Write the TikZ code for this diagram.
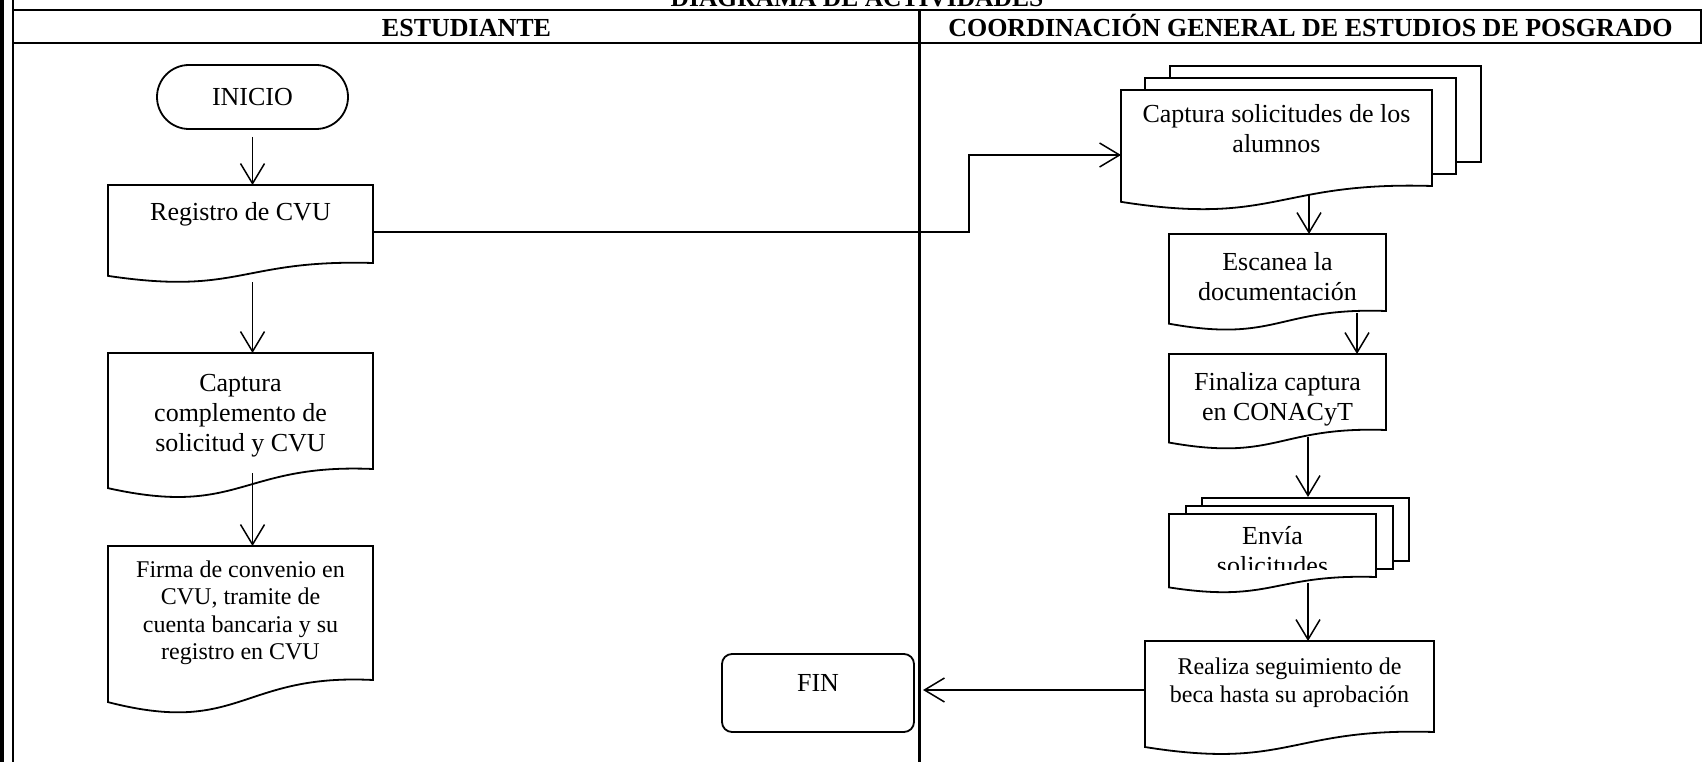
\documentclass[tikz,border=0pt]{standalone}
\usepackage{fontspec}
\setmainfont{Liberation Serif}
\usetikzlibrary{arrows.meta,calc}
\pgfdeclarelayer{bg}
\pgfsetlayers{bg,main}

\tikzset{
  frame/.style={line width=2.2pt},
  shapeline/.style={line width=1.8pt, line join=miter},
  docbox/.style={rectangle, inner sep=0pt, outer sep=0pt, align=center,
    font=\fontsize{26}{30}\selectfont},
  smalltext/.style={font=\fontsize{24}{27.5}\selectfont},
  term/.style={rectangle, draw, line width=1.8pt, inner sep=0pt, outer sep=0pt,
    font=\fontsize{26}{30}\selectfont},
  hdr/.style={font=\fontsize{26}{30}\selectfont\bfseries, inner sep=0pt, anchor=base},
  arr/.style={line width=1.5pt, -{Straight Barb[length=20pt,width=24pt]}},
}

% document symbol: rectangle with a wavy lower edge, built on a node's box
\newcommand\docshape[1]{%
  \draw[shapeline, fill=white]
    let \p1=(#1.north west), \p2=(#1.south east), \n1={\y1-\y2} in
    (\p1) -- (\x2,\y1) -- (\p2)
    .. controls ({0.5*\x1+0.5*\x2},{\y2+0.05*\n1}) and ({0.5*\x1+0.5*\x2},{\y2-0.42*\n1})
    .. (\x1,{\y2-0.165*\n1}) -- cycle;}
% sheet behind a multi-document symbol
\newcommand\backpage[3]{%
  \draw[shapeline, fill=white]
    ([shift={(#2,#3)}]#1.north west) rectangle ([shift={(#2,#3)}]#1.south east);}

\begin{document}
\begin{tikzpicture}[x=1pt, y=-1pt]
\useasboundingbox (0,0) rectangle (1702,762);
\clip (0,0) rectangle (1702,762);

% table frame
\fill (0,0) rectangle (4,762);
\draw[frame] (13,0) -- (13,762);
\draw[frame] (13,10) -- (1701,10) -- (1701,43) -- (13,43);
\draw[frame] (919.5,10) -- (919.5,762);

\node[hdr, font=\fontsize{25.5}{30}\selectfont\bfseries] (ttl) at (857,7) {DIAGRAMA DE ACTIVIDADES};
\node[hdr] (h1) at (466.5,36.5) {ESTUDIANTE};
\node[hdr] (h2) at (1310.5,36.5) {COORDINACIÓN GENERAL DE ESTUDIOS DE POSGRADO};

% student lane
\node[term, rounded corners=32pt, minimum width=191pt, minimum height=64pt] (inicio) at (252.5,97) {INICIO};
\node[docbox, minimum width=265pt, minimum height=78pt, text height=18pt, text depth=25pt] (reg) at (240.5,224) {Registro de CVU};
\node[docbox, minimum width=265pt, minimum height=116pt, text height=86pt] (cap) at (240.5,411) {Captura\\complemento de\\solicitud y CVU};
\node[docbox, smalltext, minimum width=265pt, minimum height=134pt] (firma) at (240.5,613) {Firma de convenio en\\CVU, tramite de\\cuenta bancaria y su\\registro en CVU};
\node[term, rounded corners=10pt, minimum width=192pt, minimum height=78pt, text height=18pt, text depth=21pt] (finbox) at (818,693) {FIN};

% coordination lane
\node[docbox, minimum width=311pt, minimum height=96pt, text depth=20pt] (capsol) at (1276.5,138) {Captura solicitudes de los\\alumnos};
\node[docbox, minimum width=217pt, minimum height=77pt, text height=56pt] (esc) at (1277.5,272.5) {Escanea la\\documentación};
\node[docbox, minimum width=217pt, minimum height=76pt, text height=56pt, text depth=0pt] (fin2) at (1277.5,392) {Finaliza captura\\en CONACyT};
\begin{scope}
  \clip (1160,500) rectangle (1400,569);
  \node[docbox, minimum width=207pt, minimum height=63pt, text height=57pt, text depth=0pt] (envia) at (1272.5,545.5) {Envía\\solicitudes};
\end{scope}
\node[docbox, smalltext, minimum width=289pt, minimum height=91pt, text depth=13pt] (real) at (1289.5,686.5) {Realiza seguimiento de\\beca hasta su aprobación};

% outlines behind the texts
\begin{pgfonlayer}{bg}
  \docshape{reg}
  \docshape{cap}
  \docshape{firma}
  \backpage{capsol}{49}{-24}
  \backpage{capsol}{24}{-12}
  \docshape{capsol}
  \docshape{esc}
  \docshape{fin2}
  \backpage{envia}{33}{-16}
  \backpage{envia}{17}{-8}
  \docshape{envia}
  \docshape{real}
\end{pgfonlayer}

% connectors
\draw[arr] ([yshift=-8pt]inicio.south) -- (inicio.south |- reg.north);
\draw[arr] ($(reg.south -| inicio.south)+(0,19)$) -- (inicio.south |- cap.north);
\draw[arr] ($(cap.south -| inicio.south)+(0,4)$) -- (inicio.south |- firma.north);
\draw[arr] ($(reg.east)+(0,8)$) -| ($(capsol.west)+(-152,17)$) -- ($(capsol.west)+(0,17)$);
\draw[arr] ($(capsol.south)+(32.5,9)$) coordinate (c1) -- (c1 |- esc.north);
\draw[arr] ($(esc.south)+(79.5,2)$) coordinate (c2) -- (c2 |- fin2.north);
\draw[arr] ($(fin2.south)+(30.5,7)$) coordinate (c3) -- ($(c3 |- envia.north)+(0,-17)$);
\draw[arr] ($(envia.south)+(35.5,6)$) coordinate (c4) -- (c4 |- real.north);
\coordinate (finin) at ($(finbox.east)+(9,-3)$);
\draw[arr] (real.west |- finin) -- (finin);
\end{tikzpicture}
\end{document}
